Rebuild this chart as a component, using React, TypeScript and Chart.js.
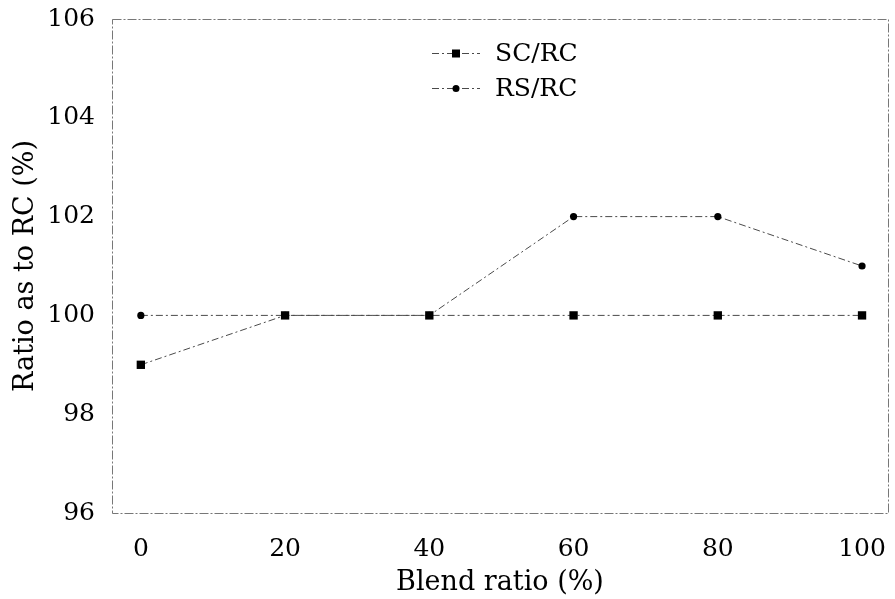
import React, { useEffect, useRef } from "react";
import { Chart, registerables } from "chart.js";

Chart.register(...registerables);

const blendRatio = [0, 20, 40, 60, 80, 100];
const scRc = [99, 100, 100, 100, 100, 100];
const rsRc = [100, 100, 100, 102, 102, 101];
const xTicks = [0, 20, 40, 60, 80, 100];
const yTicks = [96, 98, 100, 102, 104, 106];
const seriesNames = ["SC/RC", "RS/RC"];

const FONT = "'DejaVu Serif', serif";
const LINE_COLOR = "#4a4a4a";
const DASH = [7, 3, 2, 3];

const boxPlugin = {
  id: "box",
  beforeDatasetsDraw(chart: any) {
    const { ctx, chartArea } = chart;
    ctx.save();
    ctx.strokeStyle = "#777";
    ctx.lineWidth = 1;
    ctx.setLineDash([9, 2, 2, 2]);
    ctx.strokeRect(
      Math.round(chartArea.left) + 0.5,
      Math.round(chartArea.top) + 0.5,
      Math.round(chartArea.right - chartArea.left),
      Math.round(chartArea.bottom - chartArea.top)
    );
    ctx.restore();
  },
};

const legendPlugin = {
  id: "customLegend",
  afterDraw(chart: any) {
    const { ctx, chartArea } = chart;
    ctx.save();
    const x0 = chartArea.left + 320;
    const rows = [chartArea.top + 34, chartArea.top + 69];
    chart.data.datasets.forEach((ds: any, i: number) => {
      const y = rows[i];
      ctx.strokeStyle = LINE_COLOR;
      ctx.lineWidth = 1;
      ctx.setLineDash(DASH);
      ctx.beginPath();
      ctx.moveTo(x0, y + 0.5);
      ctx.lineTo(x0 + 48, y + 0.5);
      ctx.stroke();
      ctx.setLineDash([]);
      ctx.fillStyle = "#000";
      const cx = x0 + 24;
      if (ds.pointStyle === "rect") {
        ctx.fillRect(cx - 4, y - 3.5, 8, 8);
      } else {
        ctx.beginPath();
        ctx.arc(cx, y + 0.5, 3.5, 0, Math.PI * 2);
        ctx.fill();
      }
      ctx.font = "25px " + FONT;
      ctx.textBaseline = "middle";
      ctx.textAlign = "left";
      ctx.fillText(ds.label, x0 + 63, y + 1);
    });
    ctx.restore();
  },
};

export default function App() {
  const ref = useRef<HTMLCanvasElement | null>(null);

  useEffect(() => {
    if (!ref.current) return;
    const chart = new Chart(ref.current, {
      type: "line",
      data: {
        datasets: [
          {
            label: seriesNames[0],
            data: blendRatio.map((x, i) => ({ x, y: scRc[i] })),
            borderColor: LINE_COLOR,
            borderWidth: 1,
            borderDash: DASH,
            pointStyle: "rect",
            pointRadius: 5.9,
            pointBackgroundColor: "#000",
            pointBorderColor: "#000",
            pointBorderWidth: 0,
            tension: 0,
          },
          {
            label: seriesNames[1],
            data: blendRatio.map((x, i) => ({ x, y: rsRc[i] })),
            borderColor: LINE_COLOR,
            borderWidth: 1,
            borderDash: DASH,
            pointStyle: "circle",
            pointRadius: 3.6,
            pointBackgroundColor: "#000",
            pointBorderColor: "#000",
            pointBorderWidth: 0,
            tension: 0,
          },
        ],
      },
      options: {
        animation: false,
        responsive: true,
        maintainAspectRatio: false,
        layout: { padding: { top: 19, right: 7, left: 0, bottom: 0 } },
        plugins: {
          legend: { display: false },
          tooltip: { enabled: false },
        },
        scales: {
          x: {
            type: "linear",
            min: -4,
            max: 103.6,
            grid: { display: false },
            border: { display: false },
            afterBuildTicks: (scale: any) => {
              scale.ticks = xTicks.map((v) => ({ value: v }));
            },
            afterFit: (scale: any) => {
              scale.height = 86;
              scale.paddingLeft = 0;
              scale.paddingRight = 0;
            },
            ticks: {
              color: "#000",
              font: { family: FONT, size: 25 },
              padding: 13,
              maxRotation: 0,
            },
            title: {
              display: true,
              text: "Blend ratio (%)",
              color: "#000",
              font: { family: FONT, size: 27 },
              padding: { top: 0, bottom: 0 },
            },
          },
          y: {
            type: "linear",
            min: 96,
            max: 106,
            grid: { display: false },
            border: { display: false },
            afterBuildTicks: (scale: any) => {
              scale.ticks = yTicks.map((v) => ({ value: v }));
            },
            afterFit: (scale: any) => {
              scale.width = 112;
              scale.paddingTop = 0;
              scale.paddingBottom = 0;
            },
            ticks: {
              color: "#000",
              font: { family: FONT, size: 25 },
              padding: 9,
            },
            title: {
              display: true,
              text: "Ratio as to RC (%)",
              color: "#000",
              font: { family: FONT, size: 27 },
              padding: { top: 10, bottom: 0 },
            },
          },
        },
      },
      plugins: [boxPlugin, legendPlugin],
    } as any);
    return () => chart.destroy();
  }, []);

  return (
    <div style={{ position: "absolute", left: 0, top: 0, width: 895, height: 599, background: "#fff" }}>
      <canvas ref={ref} />
    </div>
  );
}
